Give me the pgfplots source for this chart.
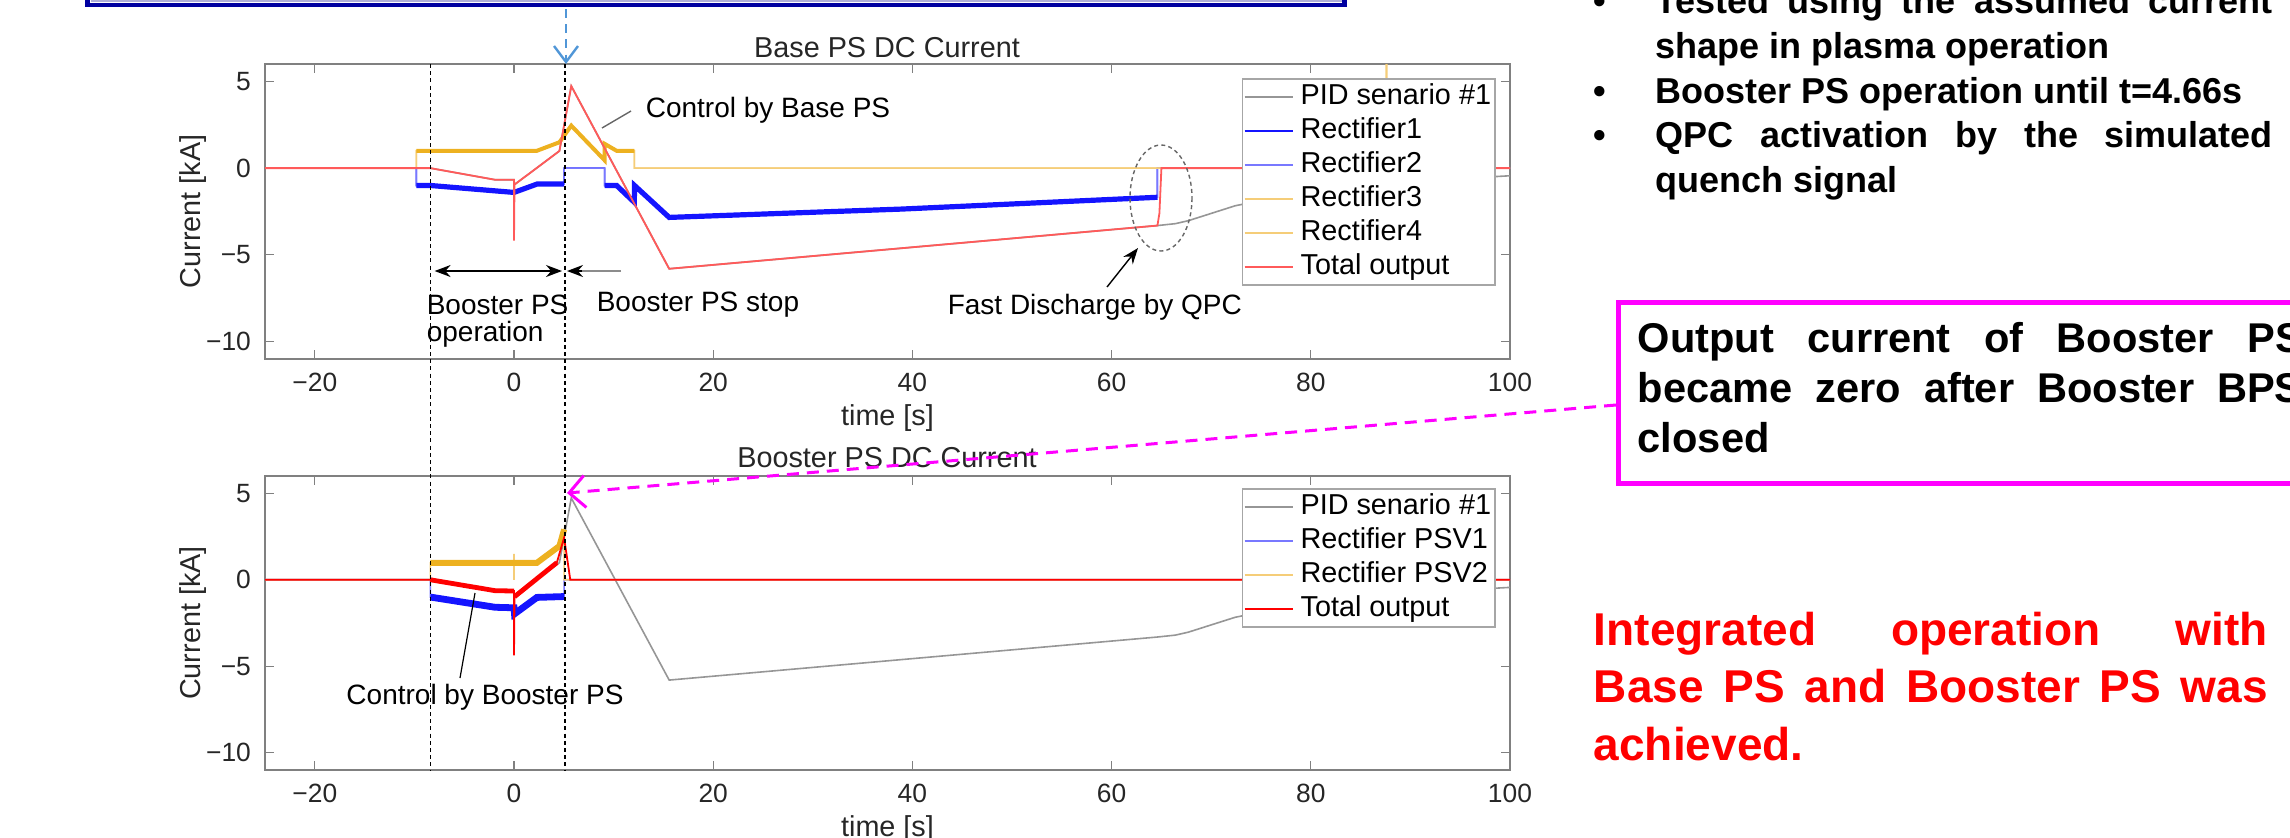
\documentclass[border=0pt]{standalone}
\usepackage{fontspec}
\setmainfont{Liberation Sans}
\usepackage{pgfplots}
\pgfplotsset{compat=1.18}
\usetikzlibrary{arrows.meta}

\definecolor{axgray}{RGB}{128,128,128}
\definecolor{pidgray}{RGB}{150,150,150}
\definecolor{rblue}{RGB}{20,20,255}
\definecolor{rblue2}{RGB}{120,120,255}
\definecolor{rorange}{RGB}{237,177,32}
\definecolor{rorange2}{RGB}{245,205,120}
\definecolor{tred}{RGB}{255,90,90}
\definecolor{bred}{RGB}{255,0,0}
\definecolor{boxblue}{RGB}{0,0,160}
\definecolor{boxlight}{RGB}{175,175,215}
\definecolor{arrblue}{RGB}{80,150,215}
\definecolor{mag}{RGB}{255,0,255}

\newcommand\annfont{\fontsize{7}{8}\selectfont}
\newcommand\ttlfont{\fontsize{7.2}{8}\selectfont}
\newcommand\bulfont{\fontsize{9}{11}\selectfont\bfseries}
\newcommand\magfont{\fontsize{10.4}{12}\selectfont\bfseries}
\newcommand\redfont{\fontsize{11.5}{14}\selectfont\bfseries}

\pgfplotsset{
  dcplot/.style={
    scale only axis, width=311.25pt, height=73.75pt,
    xmin=-25, xmax=100, ymin=-11, ymax=6,
    xtick={-20,0,20,40,60,80,100},
    xticklabels={−20,0,20,40,60,80,100},
    ytick={-10,-5,0,5},
    yticklabels={−10,−5,0,5},
    tick align=inside, major tick length=2.25pt,
    axis line style={axgray, line width=0.35pt},
    tick style={axgray, line width=0.3pt},
    tick label style={font=\fontsize{6.6}{7.5}\selectfont, text=black!85},
    label style={font=\ttlfont, text=black!85},
    xlabel={time [s]}, ylabel={Current [kA]},
    xlabel style={at={(axis description cs:0.5,-0.2)}, anchor=center},
    ylabel style={at={(axis description cs:-0.058,0.5)}, anchor=center},
    legend cell align=left,
    legend image code/.code={\draw[#1] (0pt,0pt) -- (12pt,0pt);},
    legend style={anchor=north east, draw=axgray!70, fill=white,
      inner sep=0.3pt, font=\ttlfont,
      nodes={inner sep=0.75pt, text height=5.4pt, text depth=1.6pt},
      /tikz/every odd column/.append style={column sep=1pt}},
    unbounded coords=jump,
  },
}

\begin{document}
\begin{tikzpicture}
\useasboundingbox (0,0) rectangle (572.5pt,-209.25pt);
\clip (0,0) rectangle (572.5pt,-209.25pt);

% Base PS DC current
\begin{axis}[dcplot, at={(66.25pt,-89.75pt)}, anchor=south west,
  legend style={at={(0.9888,0.9525)}}]
\addplot[pidgray, line width=0.4pt] coordinates {(-25,0) (-8.4,0) (-1.9,-0.67) (0,-0.67) (0.05,-0.95) (4.56,0.99) (5.75,4.73) (15.58,-5.8) (64.6,-3.31) (66.4,-3.2) (67.7,-3.03) (72.4,-2.17) (76,-1.75) (80,-1.4) (85,-1.05) (90,-0.8) (95,-0.6) (100,-0.44)};
\addlegendentry{PID senario \#1}
\addplot[rblue, line width=0.4pt] coordinates {(-9.8,0) (-9.8,-1.0) (-8.4,-1.0) (-1.9,-1.31) (0,-1.4) (2.3,-0.92) (5.03,-0.92) (5.03,0) (9.1,0) (9.1,-1.0) (10.3,-1.0) (12.08,-1.97) (12.1,-1.0) (15.58,-2.84) (38.9,-2.36) (64.6,-1.68) (64.6,0) (100,0)};
\addlegendentry{Rectifier1}
\addplot[rblue2, line width=0.4pt] coordinates {(-9.8,0) (-9.8,-1.0) (-8.4,-1.0) (-1.9,-1.31) (0,-1.4) (2.3,-0.92) (5.03,-0.92) (5.03,0) (9.1,0) (9.1,-1.0) (10.3,-1.0) (12.08,-1.97) (12.1,-1.0) (15.58,-2.84) (38.9,-2.36) (64.6,-1.68) (64.6,0) (100,0)};
\addlegendentry{Rectifier2}
\addplot[rorange2, line width=0.4pt] coordinates {(-9.8,0) (-9.8,1.0) (2.3,1.0) (4.56,1.49) (5.75,2.45) (9.1,0.45) (9.1,1.4) (10.3,1.0) (12.08,1.0) (12.08,0) (100,0)};
\addlegendentry{Rectifier3}
\addplot[rorange2, line width=0.4pt] coordinates {(-9.8,0) (-9.8,1.0) (2.3,1.0) (4.56,1.49) (5.75,2.45) (9.1,0.45) (9.1,1.4) (10.3,1.0) (12.08,1.0) (12.08,0) (87.5,0) (87.6,8) (87.7,0) (100,0)};
\addlegendentry{Rectifier4}
% noisy bands drawn thicker
\addplot[rblue, line width=1.3pt, forget plot] coordinates {(-9.8,-1.0) (-8.4,-1.0) (-1.9,-1.31) (0,-1.4) (2.3,-0.92) (5.03,-0.92) (5.05,nan) (9.1,-1.0) (10.3,-1.0) (12.08,-1.97) (12.1,-1.0) (15.58,-2.84) (38.9,-2.36) (64.6,-1.68)};
\addplot[rorange, line width=1.0pt, forget plot] coordinates {(-9.8,1.0) (2.3,1.0) (4.56,1.49) (5.75,2.45) (9.1,0.45) (9.1,1.4) (10.3,1.0) (12.08,1.0)};
\addplot[tred, line width=0.45pt] coordinates {(-25,0) (-8.4,0) (-1.9,-0.67) (0,-0.67) (0,-4.18) (0.05,-0.95) (4.56,0.99) (5.75,4.73) (15.58,-5.8) (64.6,-3.31) (64.8,-2.6) (65.0,0) (100,0)};
\addlegendentry{Total output}
\end{axis}

% Booster PS DC current
\begin{axis}[dcplot, at={(66.25pt,-192.5pt)}, anchor=south west, height=73.5pt,
  legend style={at={(0.9888,0.959)}}]
\addplot[pidgray, line width=0.4pt] coordinates {(-25,0) (-8.4,0) (-1.9,-0.67) (0,-0.67) (0.05,-0.95) (4.56,0.99) (5.75,4.73) (15.58,-5.8) (64.6,-3.31) (66.4,-3.2) (67.7,-3.03) (72.4,-2.17) (76,-1.75) (80,-1.4) (85,-1.05) (90,-0.8) (95,-0.6) (100,-0.44)};
\addlegendentry{PID senario \#1}
\addplot[rblue2, line width=0.4pt] coordinates {(-25,0) (-8.4,0) (-8.4,-1.0) (-1.9,-1.59) (0,-1.62) (0.05,-1.97) (2.3,-1.02) (5.03,-0.97) (5.03,0) (100,0)};
\addlegendentry{Rectifier PSV1}
\addplot[rorange2, line width=0.4pt] coordinates {(-25,0) (-8.4,0) (-8.4,0.98) (-0.02,0.98) (0,1.5) (0,0) (0.02,0.98) (2.3,0.98) (4.56,1.95) (5.03,2.91) (5.03,0) (100,0)};
\addlegendentry{Rectifier PSV2}
\addplot[rblue, line width=1.7pt, forget plot] coordinates {(-8.4,-1.0) (-1.9,-1.59) (0,-1.62) (0.05,-1.97) (2.3,-1.02) (5.03,-0.97)};
\addplot[rorange, line width=1.5pt, forget plot] coordinates {(-8.4,0.98) (2.3,0.98) (4.56,1.95) (5.03,2.91)};
\addplot[bred, line width=0.45pt] coordinates {(-25,0) (-8.4,0) (-1.9,-0.63) (0,-0.65) (0,-4.37) (0.05,-0.98) (4.3,0.99) (5.03,2.43) (5.65,0) (100,0)};
\addlegendentry{Total output}
\addplot[bred, line width=1.2pt, forget plot] coordinates {(-8.4,0) (-1.9,-0.63) (0,-0.65) (0.02,nan) (0.05,-0.98) (4.3,0.99)};
\end{axis}

\begin{scope}[x=0.25pt, y=-0.25pt]
% plot titles
\node[font=\ttlfont, text=black!85, inner sep=0] at (887,48) {Base PS DC Current};
\node[font=\ttlfont, text=black!85, inner sep=0] at (887,458) {Booster PS DC Current};

% box at the top
\draw[boxblue, line width=1.1pt] (87.5,-40) -- (87.5,5) -- (1344.5,5) -- (1344.5,-40);
\draw[boxlight, line width=0.5pt] (91.5,-40) -- (91.5,1) -- (1340.5,1) -- (1340.5,-40);
\draw[arrblue, line width=0.6pt, dash pattern=on 2.2pt off 1.6pt,
  -{Straight Barb[length=4pt,width=6pt]}] (566,9) -- (566,64);

% time markers through both plots
\draw[black, line width=0.3pt, dash pattern=on 1pt off 0.8pt] (430.3,64) -- (430.3,770);
\draw[black, line width=0.3pt, dash pattern=on 1pt off 0.8pt] (565,64) -- (565,770);

% annotations, upper plot
\node[font=\annfont, inner sep=0, anchor=center] at (768,110) {Control by Base PS};
\draw[black!60, line width=0.35pt] (631,111) -- (602,128);
\draw[line width=0.45pt, {Stealth[length=4pt,width=3pt]}-{Stealth[length=4pt,width=3pt]}] (434.6,271) -- (562,271);
\draw[black!45, line width=0.45pt] (621,271) -- (578,271);
\draw[line width=0.45pt, -{Stealth[length=4pt,width=3pt]}] (582,271) -- (567,271);
\node[font=\annfont, inner sep=0, anchor=west] at (426,305) {Booster PS};
\node[font=\annfont, inner sep=0, anchor=west] at (426,334) {operation};
\node[font=\annfont, inner sep=0, anchor=west] at (596,305) {Booster PS stop};
\node[font=\annfont, inner sep=0, anchor=west] at (947,307) {Fast Discharge by QPC};
\draw[line width=0.35pt, -{Stealth[length=4pt,width=3pt]}] (1107,287) -- (1138,248);
\draw[black!60, line width=0.35pt, dash pattern=on 1pt off 0.8pt] (1161,198) ellipse (31 and 53);

% annotations, lower plot
\node[font=\annfont, inner sep=0, anchor=center] at (485,697) {Control by Booster PS};
\draw[black, line width=0.3pt] (475,593) -- (460,678);
\draw[mag, line width=0.75pt, dash pattern=on 3pt off 2pt,
  -{Straight Barb[length=4pt,width=8pt]}] (1616,405) -- (567,493);

% bullet list
\foreach \yy in {13.5,103,147}
  \node[font=\bulfont, inner sep=0, anchor=base] at (1600,\yy) {•};
\node[font=\bulfont, inner sep=0, anchor=base west] at (1655,13.5) {\makebox[154.25pt][s]{Tested using the assumed current}};
\node[font=\bulfont, inner sep=0, anchor=base west] at (1655,58) {shape in plasma operation};
\node[font=\bulfont, inner sep=0, anchor=base west] at (1655,103) {Booster PS operation until t=4.66s};
\node[font=\bulfont, inner sep=0, anchor=base west] at (1655,147) {\makebox[154.25pt][s]{QPC activation by the simulated}};
\node[font=\bulfont, inner sep=0, anchor=base west] at (1655,192) {quench signal};

% magenta box
\draw[mag, line width=1.25pt] (2400,302.5) -- (1618.5,302.5) -- (1618.5,483.5) -- (2400,483.5);
\node[font=\magfont, inner sep=0, anchor=base west] at (1637,352) {\makebox[166.25pt][s]{Output current of Booster PS}};
\node[font=\magfont, inner sep=0, anchor=base west] at (1637,402) {\makebox[166.25pt][s]{became zero after Booster BPS}};
\node[font=\magfont, inner sep=0, anchor=base west] at (1637,452) {closed};

% conclusion
\node[font=\redfont, text=bred, inner sep=0, anchor=base west] at (1593,645) {\makebox[168.5pt][s]{Integrated operation with}};
\node[font=\redfont, text=bred, inner sep=0, anchor=base west] at (1593,702) {\makebox[168.5pt][s]{Base PS and Booster PS was}};
\node[font=\redfont, text=bred, inner sep=0, anchor=base west] at (1593,760) {achieved.};
\end{scope}
\end{tikzpicture}
\end{document}
